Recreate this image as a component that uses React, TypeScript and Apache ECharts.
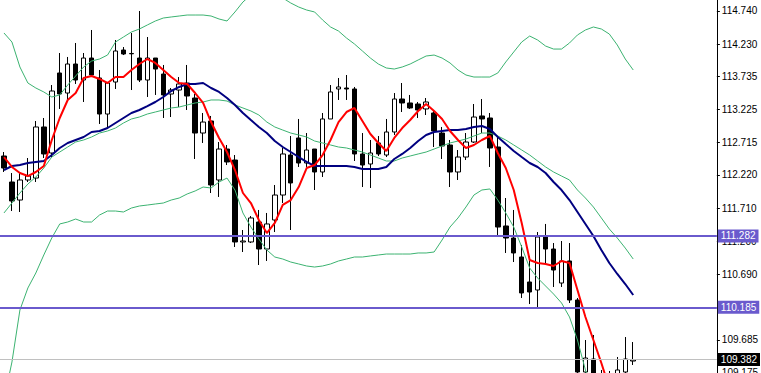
import React, { useEffect, useRef } from 'react';
import * as echarts from 'echarts';

// 90 bar slots on the x axis (80 candles + empty right shift)
const slots = Array.from({ length: 90 }, (_, i) => String(i + 1));

const opens = [
  112.511, 112.111, 111.834, 112.142, 112.172, 112.957, 112.557, 113.787, 113.479, 113.925,
  113.679, 114.017, 113.710, 113.156, 113.648, 114.140, 114.087, 114.017, 113.679, 114.017,
  113.771, 113.464, 113.525, 113.633, 113.402, 112.864, 113.049, 112.142, 112.618, 112.449,
  111.189, 111.189, 111.496, 111.081, 111.527, 111.911, 112.526, 112.788, 112.403, 112.618,
  112.265, 113.080, 113.541, 113.556, 113.541, 112.542, 112.388, 112.711, 112.526, 112.880,
  113.387, 113.326, 113.310, 113.234, 113.172, 112.864, 112.680, 112.265, 112.495, 112.726,
  113.126, 113.095, 112.649, 111.435, 111.250, 110.958, 110.574, 110.451, 111.266, 111.081,
  110.558, 110.897, 110.297, 109.190, 109.390, 109.144, 109.067, 108.990, 109.190, 109.359,
];
const closes = [
  112.326, 111.819, 112.142, 112.203, 112.957, 112.542, 113.510, 113.464, 113.925, 113.679,
  114.017, 113.756, 113.156, 113.633, 114.125, 114.079, 114.082, 113.679, 114.017, 113.848,
  113.449, 113.525, 113.618, 113.433, 112.864, 113.033, 112.065, 112.618, 112.419, 111.189,
  111.204, 111.558, 111.081, 111.466, 111.911, 112.542, 112.096, 112.403, 112.603, 112.265,
  113.080, 113.495, 113.572, 113.541, 112.542, 112.372, 112.557, 112.542, 112.880, 113.387,
  113.326, 113.249, 113.218, 113.341, 112.895, 112.665, 112.265, 112.495, 112.726, 113.110,
  113.080, 112.634, 111.419, 111.250, 111.020, 110.405, 110.420, 111.266, 111.081, 110.758,
  110.897, 110.297, 109.190, 109.405, 109.098, 108.914, 108.837, 109.221, 109.390, 109.375,
];
const highs = [
  112.572, 112.249, 112.265, 112.480, 113.049, 113.095, 113.602, 114.094, 114.033, 114.248,
  114.094, 114.448, 113.833, 113.648, 114.294, 114.186, 114.402, 114.740, 114.340, 114.017,
  113.910, 113.556, 113.725, 113.910, 113.464, 113.172, 113.126, 112.726, 112.680, 112.526,
  111.373, 111.588, 111.681, 111.635, 112.065, 112.634, 112.818, 113.080, 112.864, 112.618,
  113.172, 113.602, 113.710, 113.756, 113.572, 112.864, 112.757, 112.818, 113.080, 113.479,
  113.633, 113.449, 113.341, 113.402, 113.218, 112.957, 112.757, 112.603, 112.864, 113.310,
  113.387, 113.172, 112.803, 111.865, 111.681, 111.143, 110.974, 111.342, 111.466, 111.173,
  111.204, 111.173, 110.328, 109.682, 109.759, 109.221, 109.206, 109.421, 109.728, 109.651,
];
const lows = [
  112.265, 111.665, 111.650, 112.111, 112.111, 112.480, 112.495, 113.234, 113.372, 113.618,
  113.341, 113.725, 113.003, 112.941, 113.541, 114.063, 113.525, 113.648, 113.418, 113.449,
  113.095, 113.110, 113.264, 113.218, 112.465, 112.711, 111.942, 111.881, 112.372, 111.112,
  111.035, 111.173, 110.835, 110.897, 111.342, 111.788, 111.373, 112.342, 112.342, 111.988,
  112.188, 113.080, 113.372, 113.372, 112.434, 112.034, 112.019, 112.511, 112.495, 112.834,
  113.187, 113.234, 113.095, 113.141, 112.649, 112.465, 112.034, 112.142, 112.449, 112.711,
  112.864, 112.342, 111.266, 111.020, 110.881, 110.328, 110.235, 110.174, 110.835, 110.497,
  110.497, 110.251, 109.067, 108.990, 108.914, 108.760, 108.683, 108.837, 109.098, 109.298,
];

// fast moving average (red)
const maFast = [
  112.495, 112.342, 112.249, 112.203, 112.265, 112.357, 112.757, 113.095, 113.372, 113.479,
  113.710, 113.741, 113.695, 113.633, 113.725, 113.725, 113.833, 113.925, 114.002, 113.941,
  113.833, 113.725, 113.633, 113.618, 113.479, 113.326, 113.033, 112.788, 112.572, 112.295,
  111.942, 111.788, 111.527, 111.327, 111.481, 111.758, 111.834, 112.034, 112.326, 112.372,
  112.526, 112.757, 113.033, 113.187, 113.249, 113.049, 112.849, 112.711, 112.588, 112.788,
  112.941, 113.064, 113.203, 113.310, 113.203, 113.080, 112.895, 112.757, 112.634, 112.680,
  112.757, 112.818, 112.557, 112.326, 111.988, 111.481, 110.912, 110.866, 110.851, 110.820,
  110.897, 110.866, 110.451, 110.036, 109.682, 109.329, 108.944, 108.760, 108.683, 108.683,
];
// slow moving average (navy)
const maSlow = [
  112.295, 112.357, 112.372, 112.403, 112.419, 112.434, 112.526, 112.634, 112.711, 112.757,
  112.803, 112.880, 112.895, 112.941, 113.018, 113.095, 113.172, 113.218, 113.279, 113.341,
  113.418, 113.510, 113.572, 113.618, 113.618, 113.633, 113.556, 113.495, 113.402, 113.295,
  113.172, 113.064, 112.957, 112.864, 112.741, 112.649, 112.572, 112.495, 112.419, 112.357,
  112.357, 112.357, 112.357, 112.357, 112.342, 112.311, 112.311, 112.311, 112.342, 112.465,
  112.542, 112.634, 112.741, 112.834, 112.880, 112.895, 112.910, 112.910, 112.926, 112.957,
  112.972, 112.926, 112.803, 112.695, 112.588, 112.495, 112.403, 112.342, 112.249, 112.111,
  111.988, 111.834, 111.650, 111.466, 111.281, 111.066, 110.866, 110.697, 110.543, 110.374,
];
// Bollinger bands
const bbUpper = [
  114.402, 114.263, 113.879, 113.633, 113.556, 113.495, 113.418, 113.449, 113.602, 113.741,
  113.879, 113.971, 114.002, 114.063, 114.263, 114.340, 114.417, 114.463, 114.525, 114.586,
  114.632, 114.648, 114.663, 114.678, 114.678, 114.678, 114.663, 114.617, 114.586, 114.725,
  114.878, 114.986, 115.063, 115.063, 115.032, 114.940, 114.863, 114.801, 114.755, 114.725,
  114.602, 114.494, 114.432, 114.325, 114.233, 114.125, 114.017, 113.925, 113.864, 113.848,
  113.879, 113.925, 113.987, 114.048, 114.063, 114.017, 113.941, 113.833, 113.756, 113.725,
  113.725, 113.725, 113.787, 113.956, 114.110, 114.263, 114.355, 114.294, 114.201, 114.155,
  114.155, 114.248, 114.371, 114.448, 114.494, 114.463, 114.386, 114.217, 114.002, 113.833,
];
const bbMiddle = [
  111.635, 111.788, 111.942, 112.080, 112.188, 112.326, 112.495, 112.572, 112.649, 112.726,
  112.757, 112.803, 112.864, 112.895, 112.941, 113.018, 113.080, 113.110, 113.156, 113.187,
  113.218, 113.249, 113.264, 113.295, 113.326, 113.341, 113.372, 113.372, 113.356, 113.295,
  113.249, 113.203, 113.141, 113.033, 112.957, 112.910, 112.864, 112.834, 112.803, 112.741,
  112.711, 112.680, 112.649, 112.634, 112.603, 112.572, 112.526, 112.480, 112.434, 112.434,
  112.480, 112.511, 112.542, 112.572, 112.618, 112.665, 112.711, 112.741, 112.772, 112.818,
  112.864, 112.864, 112.818, 112.757, 112.680, 112.603, 112.526, 112.434, 112.342, 112.265,
  112.203, 112.142, 111.988, 111.865, 111.727, 111.558, 111.389, 111.250, 111.096, 110.927,
];
const bbLower = [
  108.760, 109.344, 110.143, 110.482, 110.712, 110.989, 111.250, 111.466, 111.496, 111.542,
  111.496, 111.496, 111.604, 111.665, 111.665, 111.650, 111.711, 111.742, 111.757, 111.773,
  111.788, 111.834, 111.865, 111.927, 111.973, 112.034, 112.019, 112.111, 112.172, 111.988,
  111.635, 111.419, 111.235, 111.066, 110.958, 110.927, 110.881, 110.851, 110.820, 110.804,
  110.820, 110.851, 110.897, 110.927, 110.958, 110.958, 110.974, 110.989, 111.004, 111.004,
  111.004, 111.004, 111.020, 111.020, 111.035, 111.219, 111.419, 111.558, 111.727, 111.911,
  111.988, 112.004, 111.834, 111.635, 111.419, 111.112, 110.789, 110.635, 110.512, 110.389,
  110.251, 110.036, 109.682, 109.221, 108.837, 108.529, 108.299, 108.145, 108.068, 107.991,
];

const levels = [111.282, 110.185];
const currentPrice = 109.382;
const tickValues = [
  114.740, 114.230, 113.735, 113.225, 112.715, 112.220, 111.710, 111.200, 110.690, 110.185,
  109.685, 109.175,
];

const FONT = "'Liberation Sans', Arial, sans-serif";

export default function App() {
  const ref = useRef<HTMLDivElement>(null);

  useEffect(() => {
    if (!ref.current) return;
    const chart = echarts.init(ref.current, null, { renderer: 'svg' });
    const candleData = opens.map((o, i) => [o, closes[i], lows[i], highs[i]]);
    const markValues = [levels[0], levels[1], currentPrice];
    const fmt = (p: any) => markValues[p.dataIndex].toFixed(3);
    const lineSeries = (data: number[], color: string, width: number) => ({
      type: 'line',
      data,
      showSymbol: false,
      symbol: 'none',
      silent: true,
      lineStyle: { color, width },
      z: 3,
    });

    chart.setOption({
      animation: false,
      backgroundColor: '#ffffff',
      grid: { left: -3, right: 43, top: 0, bottom: 0 },
      xAxis: {
        type: 'category',
        data: slots,
        boundaryGap: true,
        show: false,
      },
      yAxis: {
        type: 'value',
        position: 'right',
        min: 109.098,
        max: 114.909,
        splitLine: { show: false },
        axisLine: { show: true, lineStyle: { color: '#000', width: 1 } },
        axisTick: {
          show: true,
          length: 3,
          lineStyle: { color: '#000' },
          customValues: tickValues,
        },
        axisLabel: {
          customValues: tickValues,
          formatter: (v: number) => v.toFixed(3),
          color: '#000',
          fontSize: 10,
          fontFamily: FONT,
          margin: 5,
        },
      },
      series: [
        {
          type: 'candlestick',
          data: candleData,
          barWidth: 5,
          silent: true,
          itemStyle: {
            color: '#ffffff',
            color0: '#000000',
            borderColor: '#000000',
            borderColor0: '#000000',
            borderWidth: 1,
          },
          markLine: {
            silent: true,
            symbol: ['none', 'none'],
            precision: 3,
            animation: false,
            label: {
              show: true,
              position: 'end',
              distance: 1,
              color: '#ffffff',
              fontSize: 10,
              fontFamily: FONT,
              padding: [2, 3, 1, 3],
              formatter: fmt,
            },
            data: [
              {
                yAxis: levels[0],
                lineStyle: { color: '#6a5acd', width: 2, type: 'solid' },
                label: { backgroundColor: '#6a5acd' },
              },
              {
                yAxis: levels[1],
                lineStyle: { color: '#6a5acd', width: 2, type: 'solid' },
                label: { backgroundColor: '#6a5acd' },
              },
              {
                yAxis: currentPrice,
                lineStyle: { color: '#c0c0c0', width: 1, type: 'solid' },
                label: { backgroundColor: '#000000' },
              },
            ],
          },
          z: 2,
        },
        lineSeries(bbUpper, '#3cb371', 1),
        lineSeries(bbMiddle, '#3cb371', 1),
        lineSeries(bbLower, '#3cb371', 1),
        lineSeries(maSlow, '#000080', 2),
        lineSeries(maFast, '#ff0000', 2),
      ],
    });

    return () => chart.dispose();
  }, []);

  return (
    <div
      ref={ref}
      style={{ position: 'fixed', left: 0, top: 0, width: 761, height: 378, background: '#fff' }}
    />
  );
}
